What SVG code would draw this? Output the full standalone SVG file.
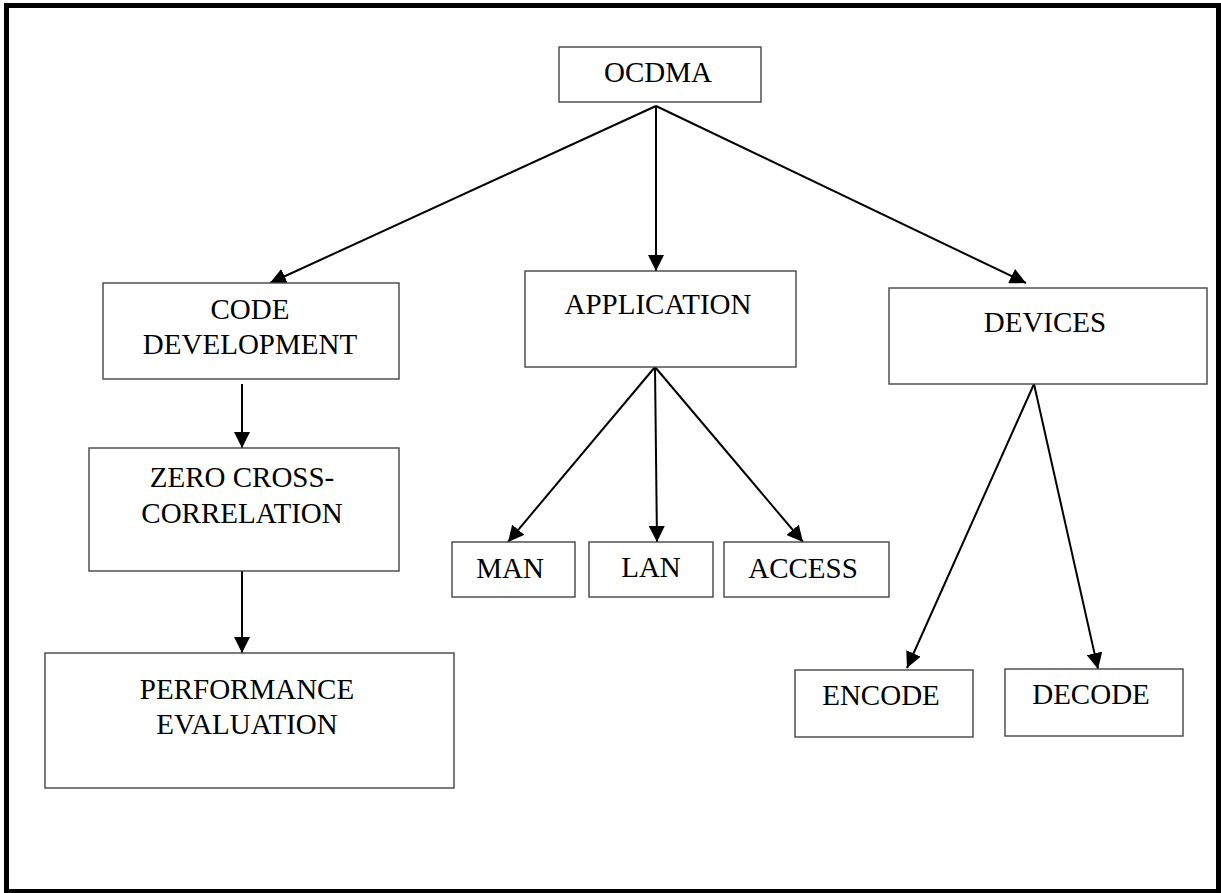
<svg xmlns="http://www.w3.org/2000/svg" width="1221" height="893" viewBox="0 0 1221 893">
<style>
.box{fill:#fff;stroke:#444;stroke-width:1.4}
.t{font-family:"Liberation Serif","Times New Roman",serif;font-size:29px;fill:#000;text-anchor:middle}
.c{stroke:#000;stroke-width:2;fill:none;marker-end:url(#ah)}
</style>
<defs>
<marker id="ah" markerUnits="userSpaceOnUse" markerWidth="16" markerHeight="16" refX="16" refY="8" orient="auto">
<path d="M0,0 L16,8 L0,16 z" fill="#000"/>
</marker>
</defs>
<rect x="0" y="0" width="1221" height="893" fill="#fff"/>
<rect x="6.5" y="5.5" width="1212" height="886" fill="none" stroke="#000" stroke-width="5"/>
<g id="connectors">
<line class="c" x1="656" y1="106" x2="270" y2="283"/>
<line class="c" x1="656" y1="106" x2="656" y2="271"/>
<line class="c" x1="656" y1="106" x2="1026" y2="283"/>
<line class="c" x1="242" y1="384" x2="242" y2="448"/>
<line class="c" x1="242" y1="571" x2="242" y2="653"/>
<line class="c" x1="655" y1="367" x2="508" y2="542"/>
<line class="c" x1="655" y1="367" x2="657" y2="542"/>
<line class="c" x1="655" y1="367" x2="803" y2="542"/>
<line class="c" x1="1034" y1="384" x2="907" y2="668"/>
<line class="c" x1="1034" y1="384" x2="1098" y2="669"/>
</g>
<g id="ocdma"><rect class="box" x="559" y="47" width="202" height="55"/><text class="t" x="658" y="82">OCDMA</text></g>
<g id="code-development"><rect class="box" x="103" y="283" width="296" height="96"/><text class="t" x="250" y="319">CODE</text><text class="t" x="250" y="354">DEVELOPMENT</text></g>
<g id="application"><rect class="box" x="525" y="271" width="271" height="96"/><text class="t" x="658" y="314">APPLICATION</text></g>
<g id="devices"><rect class="box" x="889" y="288" width="318" height="96"/><text class="t" x="1045" y="332">DEVICES</text></g>
<g id="zero-cross-correlation"><rect class="box" x="89" y="448" width="310" height="123"/><text class="t" x="242" y="487">ZERO CROSS-</text><text class="t" x="242" y="523">CORRELATION</text></g>
<g id="performance-evaluation"><rect class="box" x="45" y="653" width="409" height="135"/><text class="t" x="247" y="699">PERFORMANCE</text><text class="t" x="247" y="734">EVALUATION</text></g>
<g id="man"><rect class="box" x="452" y="542" width="123" height="55"/><text class="t" x="510" y="578">MAN</text></g>
<g id="lan"><rect class="box" x="589" y="542" width="124" height="55"/><text class="t" x="651" y="577">LAN</text></g>
<g id="access"><rect class="box" x="724" y="542" width="165" height="55"/><text class="t" x="803" y="578">ACCESS</text></g>
<g id="encode"><rect class="box" x="795" y="670" width="178" height="67"/><text class="t" x="881" y="705">ENCODE</text></g>
<g id="decode"><rect class="box" x="1005" y="669" width="178" height="67"/><text class="t" x="1091" y="704">DECODE</text></g>
</svg>
